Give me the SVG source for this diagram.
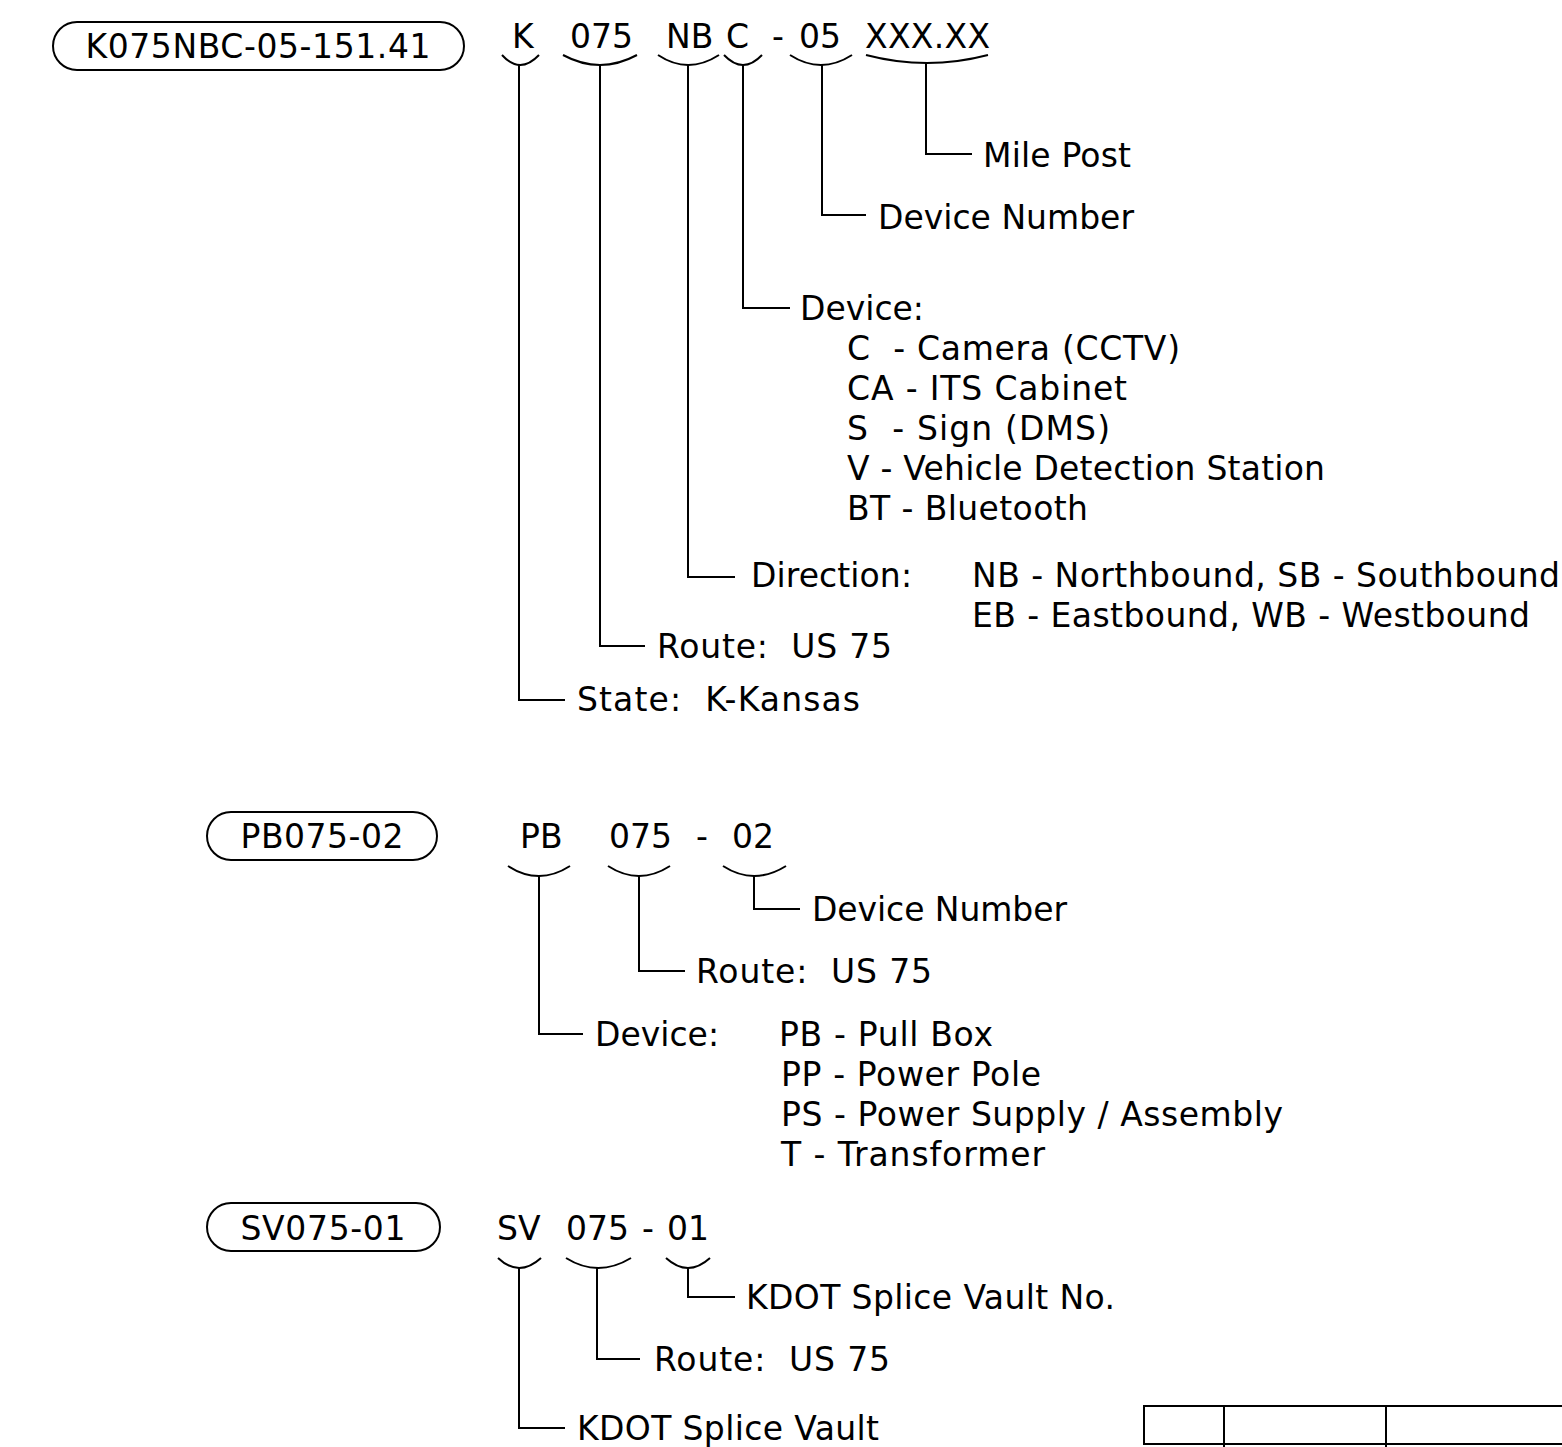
<svg xmlns="http://www.w3.org/2000/svg" width="1562" height="1447" viewBox="0 0 1562 1447">
<style>
text{font-family:"DejaVu Sans","Verdana",sans-serif;font-size:33px;fill:#000}
.c{text-anchor:middle}
.ln{fill:none;stroke:#000;stroke-width:2}
.box{fill:none;stroke:#000;stroke-width:2}
</style>
<rect width="1562" height="1447" fill="#fff"/>
<g id="label1">
<rect class="box" x="53" y="22" width="411" height="48" rx="24"/>
<text class="c" x="258" y="58" textLength="345">K075NBC-05-151.41</text>
</g>
<g id="code1">
<text x="512" y="48">K</text>
<text x="570" y="48">075</text>
<text x="666" y="48">NB</text>
<text x="726" y="48">C</text>
<text x="772" y="48">-</text>
<text x="799" y="48">05</text>
<text x="865" y="48" textLength="125">XXX.XX</text>
</g>
<g id="label2">
<rect class="box" x="207" y="812" width="230" height="48" rx="24"/>
<text class="c" x="322" y="848" textLength="163">PB075-02</text>
</g>
<g id="code2">
<text x="520" y="848">PB</text>
<text x="609" y="848">075</text>
<text x="696" y="848">-</text>
<text x="732" y="848">02</text>
</g>
<g id="label3">
<rect class="box" x="207" y="1203" width="233" height="48" rx="24"/>
<text class="c" x="323" y="1240" textLength="165">SV075-01</text>
</g>
<g id="code3">
<text x="497" y="1240">SV</text>
<text x="566" y="1240">075</text>
<text x="642" y="1240">-</text>
<text x="667" y="1240">01</text>
</g>
<g id="connectors">
<path class="ln" d="M502,55 Q520,75 539,55"/>
<path class="ln" d="M519,65 V700 H565"/>
<path class="ln" d="M563,55 Q600,75 637,55"/>
<path class="ln" d="M600,65 V646 H645"/>
<path class="ln" d="M658,55 Q688,75 719,55"/>
<path class="ln" d="M688,65 V577 H735"/>
<path class="ln" d="M724,55 Q743,75 762,55"/>
<path class="ln" d="M743,65 V308 H790"/>
<path class="ln" d="M790,55 Q821,75 852,55"/>
<path class="ln" d="M822,65 V215 H866"/>
<path class="ln" d="M866,55 Q927,71 988,55"/>
<path class="ln" d="M926,63 V154 H972"/>
<path class="ln" d="M508,866 Q539,886 570,866"/>
<path class="ln" d="M539,876 V1034 H583"/>
<path class="ln" d="M608,866 Q639,886 670,866"/>
<path class="ln" d="M639,876 V971 H685"/>
<path class="ln" d="M723,866 Q754,886 786,866"/>
<path class="ln" d="M754,876 V909 H800"/>
<path class="ln" d="M498,1258 Q519,1278 541,1258"/>
<path class="ln" d="M519,1268 V1428 H565"/>
<path class="ln" d="M566,1258 Q598,1278 631,1258"/>
<path class="ln" d="M597,1268 V1359 H640"/>
<path class="ln" d="M666,1258 Q688,1278 710,1258"/>
<path class="ln" d="M688,1268 V1297 H735"/>
</g>
<g id="desc1">
<text x="983" y="167" textLength="148">Mile Post</text>
<text x="878" y="229" textLength="256">Device Number</text>
<text x="800" y="320">Device:</text>
<text x="847" y="360" xml:space="preserve" textLength="333">C  - Camera (CCTV)</text>
<text x="847" y="400" textLength="280">CA - ITS Cabinet</text>
<text x="847" y="440" xml:space="preserve" textLength="263">S  - Sign (DMS)</text>
<text x="847" y="480" textLength="478">V - Vehicle Detection Station</text>
<text x="847" y="520" textLength="241">BT - Bluetooth</text>
<text x="751" y="587" textLength="161">Direction:</text>
<text x="972" y="587" textLength="588">NB - Northbound, SB - Southbound</text>
<text x="972" y="627" textLength="558">EB - Eastbound, WB - Westbound</text>
<text x="657" y="658" xml:space="preserve" textLength="235">Route:  US 75</text>
<text x="577" y="711" xml:space="preserve" textLength="283">State:  K-Kansas</text>
</g>
<g id="desc2">
<text x="812" y="921" textLength="255">Device Number</text>
<text x="696" y="983" xml:space="preserve" textLength="236">Route:  US 75</text>
<text x="595" y="1046" textLength="124">Device:</text>
<text x="779" y="1046" textLength="214">PB - Pull Box</text>
<text x="781" y="1086" textLength="260">PP - Power Pole</text>
<text x="781" y="1126" textLength="502">PS - Power Supply / Assembly</text>
<text x="781" y="1166" textLength="264">T - Transformer</text>
</g>
<g id="desc3">
<text x="746" y="1309" textLength="369">KDOT Splice Vault No.</text>
<text x="654" y="1371" xml:space="preserve" textLength="236">Route:  US 75</text>
<text x="577" y="1440" textLength="302">KDOT Splice Vault</text>
</g>
<g id="table">
<path class="ln" d="M1144,1445 V1406 H1562"/>
<path class="ln" d="M1144,1444 H1562"/>
<path class="ln" d="M1224,1406 V1447"/>
<path class="ln" d="M1386,1406 V1447"/>
</g>
</svg>
